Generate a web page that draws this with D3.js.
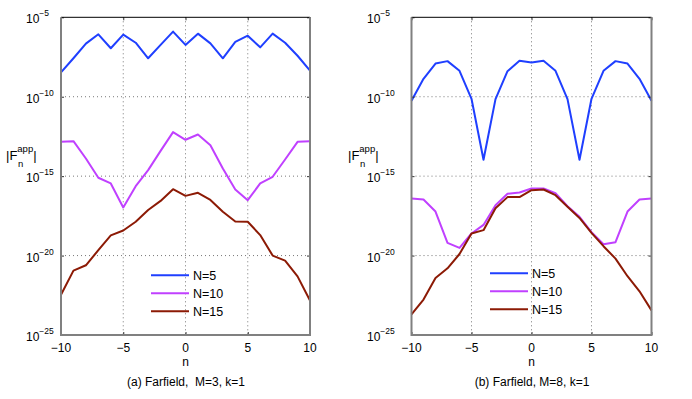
<!DOCTYPE html>
<html>
<head>
<meta charset="utf-8">
<script src="https://cdn.jsdelivr.net/npm/d3@7"></script>
<style>
  body { margin: 0; background: #fff; }
  svg { display: block; font-family: "Liberation Sans", Arial, Helvetica, sans-serif; }
</style>
</head>
<body>
<svg id="chart" width="692" height="399"></svg>
<script>
// ---- data (log10 of |F_n^app|) ----
const nValues = [-10,-9,-8,-7,-6,-5,-4,-3,-2,-1,0,1,2,3,4,5,6,7,8,9,10];
const seriesNames = ["N=5", "N=10", "N=15"];
const seriesColors = ["#1f3fff", "#c040ff", "#8c1a05"];

// Panel (a): M=3
const aN5  = [-8.47,-7.58,-6.66,-6.07,-6.95,-6.09,-6.60,-7.58,-6.74,-5.90,-6.74,-6.03,-6.64,-7.58,-6.55,-6.16,-6.89,-6.03,-6.60,-7.42,-8.36];
const aN10 = [-12.84,-12.80,-13.89,-15.10,-15.46,-16.97,-15.63,-14.62,-13.41,-12.23,-12.71,-12.38,-13.05,-14.52,-15.84,-16.51,-15.46,-15.04,-13.95,-12.84,-12.80];
const aN15 = [-22.47,-20.95,-20.61,-19.66,-18.73,-18.42,-17.87,-17.13,-16.56,-15.82,-16.24,-16.05,-16.50,-17.24,-17.85,-17.87,-18.71,-20.00,-20.32,-21.31,-22.83];

// Panel (b): M=8
const bN5  = [-10.25,-8.87,-7.91,-7.76,-8.37,-10.13,-13.97,-10.15,-8.39,-7.74,-7.85,-7.74,-8.37,-10.15,-13.97,-10.13,-8.37,-7.76,-7.91,-8.87,-10.25];
const bN10 = [-16.41,-16.47,-17.23,-19.20,-19.52,-18.61,-18.07,-16.83,-16.11,-16.03,-15.78,-15.78,-16.07,-16.89,-17.56,-18.53,-19.29,-19.16,-17.23,-16.47,-16.41];
const bN15 = [-23.70,-22.77,-21.41,-20.80,-19.90,-18.61,-18.40,-17.02,-16.32,-16.32,-15.88,-15.84,-16.20,-16.93,-17.63,-18.57,-19.41,-20.19,-21.30,-22.25,-23.45];

const xTicks = [-10, -5, 0, 5, 10];
const xTickLabels = ["\u221210", "\u22125", "0", "5", "10"];
const yTicksExp = [-5, -10, -15, -20, -25];
const captions = ["(a) Farfield,\u00a0 M=3, k=1", "(b) Farfield, M=8, k=1"];

// ---- drawing ----
const svg = d3.select("#chart");

function panel(opts) {
  const { x0, x1, y0, y1, series, caption, legendX, legendY, ylabelX, capX, tickLabelX } = opts;
  const x = d3.scaleLinear().domain([-10, 10]).range([x0, x1]);
  const y = d3.scaleLog().domain([1e-25, 1e-5]).range([y1, y0]);
  const g = svg.append("g");

  // grid
  g.append("g").selectAll("line").data(xTicks.filter(t => t > -10 && t < 10)).join("line")
    .attr("x1", d => x(d)).attr("x2", d => x(d)).attr("y1", y0).attr("y2", y1)
    .attr("stroke", "#555").attr("stroke-width", 0.8).attr("stroke-dasharray", "1,3");
  g.append("g").selectAll("line").data(yTicksExp.filter(e => e > -25 && e < -5)).join("line")
    .attr("x1", x0).attr("x2", x1).attr("y1", e => y(Math.pow(10, e))).attr("y2", e => y(Math.pow(10, e)))
    .attr("stroke", "#555").attr("stroke-width", 0.8).attr("stroke-dasharray", "1,3");

  // series lines
  const line = d3.line().x((d, i) => x(nValues[i])).y(d => y(Math.pow(10, d)));
  series.forEach((s, k) => {
    g.append("path").datum(s).attr("d", line).attr("fill", "none")
      .attr("stroke", seriesColors[k]).attr("stroke-width", 2).attr("stroke-linejoin", "round");
  });

  // axes via d3.axis (ticks only, inward)
  const yTickVals = yTicksExp.map(e => Math.pow(10, e));
  g.append("g").attr("transform", `translate(${x0},0)`)
    .call(d3.axisRight(y).tickValues(yTickVals).tickSize(3).tickFormat(() => ""))
    .call(a => a.select(".domain").remove())
    .call(a => a.selectAll("line").attr("stroke", "#333"));
  g.append("g").attr("transform", `translate(${x1},0)`)
    .call(d3.axisLeft(y).tickValues(yTickVals).tickSize(3).tickFormat(() => ""))
    .call(a => a.select(".domain").remove())
    .call(a => a.selectAll("line").attr("stroke", "#333"));
  g.append("g").attr("transform", `translate(0,${y1})`)
    .call(d3.axisTop(x).tickValues(xTicks).tickSize(3).tickFormat(() => ""))
    .call(a => a.select(".domain").remove())
    .call(a => a.selectAll("line").attr("stroke", "#333"));
  g.append("g").attr("transform", `translate(0,${y0})`)
    .call(d3.axisBottom(x).tickValues(xTicks).tickSize(3).tickFormat(() => ""))
    .call(a => a.select(".domain").remove())
    .call(a => a.selectAll("line").attr("stroke", "#333"));

  // frame
  g.append("line").attr("x1", x0).attr("x2", x1).attr("y1", y0).attr("y2", y0)
    .attr("stroke", "#000").attr("stroke-width", 1);
  g.append("path").attr("d", `M${x0},${y0}V${y1}H${x1}V${y0}`).attr("fill", "none")
    .attr("stroke", "#808080").attr("stroke-width", 2);

  // y tick labels
  const yl = g.append("g").selectAll("text").data(yTicksExp).join("text")
    .attr("x", tickLabelX).attr("y", e => y(Math.pow(10, e)) + 6)
    .attr("text-anchor", "start").attr("font-size", 12).attr("fill", "#000");
  yl.append("tspan").text("10");
  yl.append("tspan").attr("dy", -7).attr("font-size", 8.5).text(e => "\u2212" + Math.abs(e));

  // x tick labels
  g.append("g").selectAll("text").data(xTicks).join("text")
    .attr("x", d => x(d)).attr("y", y1 + 17).attr("text-anchor", "middle")
    .attr("font-size", 12).text((d, i) => xTickLabels[i]);

  // x label
  g.append("text").attr("x", (x0 + x1) / 2).attr("y", y1 + 31).attr("text-anchor", "middle")
    .attr("font-size", 12).text("n");
  // caption
  g.append("text").attr("x", capX).attr("y", y1 + 51).attr("text-anchor", "middle")
    .attr("font-size", 12).text(caption);

  // y label |F_n^app|
  const lab = g.append("text").attr("x", ylabelX).attr("y", 160).attr("font-size", 13);
  lab.append("tspan").text("|F");
  lab.append("tspan").attr("font-size", 9.5).attr("dy", -8).text("app");
  lab.append("tspan").attr("font-size", 13).attr("dy", 8).text("|");
  g.append("text").attr("x", ylabelX + 12).attr("y", 167).attr("font-size", 9.5).text("n");

  // legend
  const lg = g.append("g").selectAll("g").data(seriesNames).join("g")
    .attr("transform", (d, i) => `translate(${legendX},${legendY + i * 18})`);
  lg.append("line").attr("x1", 0).attr("x2", 38).attr("y1", 0).attr("y2", 0)
    .attr("stroke", (d, i) => seriesColors[i]).attr("stroke-width", 2);
  lg.append("text").attr("x", 42).attr("y", 4.5).attr("font-size", 12.5).text(d => d);
}

panel({ x0: 61, x1: 310, y0: 17.3, y1: 335, series: [aN5, aN10, aN15], tickLabelX: 26,
        caption: captions[0], legendX: 151, legendY: 275.3, ylabelX: 6, capX: 186 });
panel({ x0: 411.5, x1: 651.5, y0: 17.3, y1: 335, series: [bN5, bN10, bN15], tickLabelX: 367,
        caption: captions[1], legendX: 490, legendY: 273.3, ylabelX: 348, capX: 532 });
</script>
</body>
</html>
